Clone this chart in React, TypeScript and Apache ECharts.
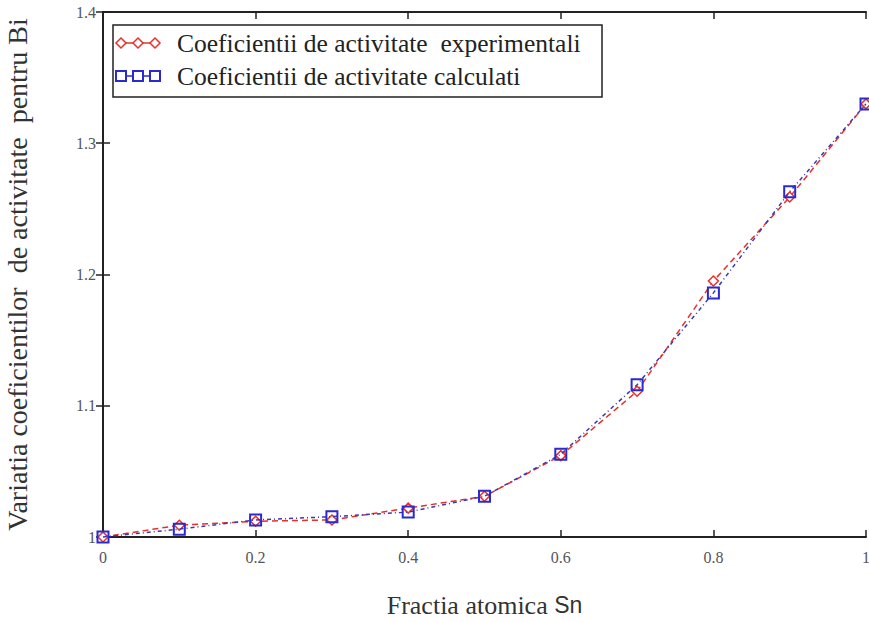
import React, { useEffect, useRef } from "react";
import * as echarts from "echarts";

const xValues = [0, 0.1, 0.2, 0.3, 0.4, 0.5, 0.6, 0.7, 0.8, 0.9, 1.0];
const experimental = [1.0, 1.009, 1.012, 1.013, 1.022, 1.031, 1.062, 1.111, 1.195, 1.259, 1.33];
const calculated = [1.0, 1.006, 1.013, 1.0155, 1.019, 1.031, 1.063, 1.116, 1.186, 1.263, 1.33];
const seriesNames = [
  "Coeficientii de activitate  experimentali",
  "Coeficientii de activitate calculati",
];
const xTitleMain = "Fractia atomica ";
const xTitleSym = "Sn";
const yTitle = "Variatia coeficientilor  de activitate  pentru Bi";

const FONT = "'Liberation Serif', 'DejaVu Serif', serif";
const RED = "#e8302a";
const BLUE = "#2a2ad0";

export default function App() {
  const ref = useRef<HTMLDivElement>(null);
  useEffect(() => {
    if (!ref.current) return;
    const chart = echarts.init(ref.current, null, { renderer: "svg" });
    const axisLine = { show: true, lineStyle: { color: "#222", width: 2 } };
    const tick = { show: true, inside: true, length: 7, lineStyle: { color: "#222", width: 1.5 } };
    const fmt = (v: number) => String(Math.round(v * 10) / 10);

    // legend drawn as graphic
    const lx = 113, ly = 25, lw = 489, lh = 72;
    const rows = [43, 76];
    const mx = [121, 138, 155];
    const legendChildren: any[] = [
      {
        type: "rect",
        shape: { x: lx, y: ly, width: lw, height: lh },
        style: { fill: "#fff", stroke: "#222", lineWidth: 1.5 },
      },
    ];
    legendChildren.push({
      type: "line",
      shape: { x1: mx[0] - 5, y1: rows[0], x2: mx[2] + 5, y2: rows[0] },
      style: { stroke: RED, lineWidth: 1.5 },
    });
    mx.forEach((x) =>
      legendChildren.push({
        type: "polygon",
        shape: { points: [[x, rows[0] - 5], [x + 5, rows[0]], [x, rows[0] + 5], [x - 5, rows[0]]] },
        style: { fill: "#fff", stroke: RED, lineWidth: 1.5 },
      })
    );
    legendChildren.push({
      type: "line",
      shape: { x1: mx[0] - 6, y1: rows[1], x2: mx[2] + 6, y2: rows[1] },
      style: { stroke: BLUE, lineWidth: 1.5 },
    });
    mx.forEach((x) =>
      legendChildren.push({
        type: "rect",
        shape: { x: x - 5, y: rows[1] - 5, width: 10, height: 10 },
        style: { fill: "#fff", stroke: BLUE, lineWidth: 2 },
      })
    );
    seriesNames.forEach((n, i) =>
      legendChildren.push({
        type: "text",
        x: 177,
        y: rows[i],
        style: {
          text: n,
          font: `25.5px ${FONT}`,
          fill: "#222",
          verticalAlign: "middle",
          align: "left",
        },
      })
    );

    chart.setOption({
      animation: false,
      backgroundColor: "#fff",
      grid: {
        left: 103,
        top: 12,
        width: 763,
        height: 525,
        containLabel: false,
        outerBoundsMode: "none",
      },
      graphic: legendChildren.map((c) => ({ ...c, z: 100 })),
      xAxis: [
        {
          type: "value",
          min: 0,
          max: 1,
          interval: 0.2,
          name: `{a|${xTitleMain}}{b|${xTitleSym}}`,
          nameLocation: "middle",
          nameGap: 55,
          nameTextStyle: {
            rich: {
              a: { fontFamily: FONT, fontSize: 26, color: "#333" },
              b: { fontFamily: "'Liberation Sans', Arial, sans-serif", fontSize: 23, color: "#333" },
            },
          },
          axisLine,
          axisTick: tick,
          axisLabel: {
            fontFamily: FONT,
            fontSize: 16,
            color: "#555",
            margin: 12,
            formatter: fmt,
            showMaxLabel: true,
            showMinLabel: true,
            hideOverlap: false,
          },
          splitLine: { show: false },
        },
        {
          type: "value",
          position: "top",
          min: 0,
          max: 1,
          interval: 0.2,
          axisLine,
          axisTick: tick,
          axisLabel: { show: false },
          splitLine: { show: false },
        },
      ],
      yAxis: [
        {
          type: "value",
          min: 1,
          max: 1.4,
          interval: 0.1,
          name: yTitle,
          nameLocation: "middle",
          nameGap: 72,
          nameTextStyle: { fontFamily: FONT, fontSize: 28, color: "#333" },
          axisLine,
          axisTick: tick,
          axisLabel: { fontFamily: FONT, fontSize: 16, color: "#555", margin: 7, formatter: fmt },
          splitLine: { show: false },
        },
        {
          type: "value",
          position: "right",
          min: 1,
          max: 1.4,
          interval: 0.1,
          axisLine,
          axisTick: tick,
          axisLabel: { show: false },
          splitLine: { show: false },
        },
      ],
      series: [
        {
          name: seriesNames[0],
          type: "line",
          data: xValues.map((x, i) => [x, experimental[i]]),
          symbol: "diamond",
          symbolSize: 10,
          showSymbol: true,
          clip: false,
          color: RED,
          itemStyle: { color: "#fff", borderColor: RED, borderWidth: 1.5 },
          lineStyle: { color: RED, width: 1.5, type: [6, 4] },
          z: 2,
        },
        {
          name: seriesNames[1],
          type: "line",
          data: xValues.map((x, i) => [x, calculated[i]]),
          symbol: "rect",
          symbolSize: 11,
          showSymbol: true,
          clip: false,
          color: BLUE,
          itemStyle: { color: "rgba(255,255,255,0)", borderColor: BLUE, borderWidth: 2 },
          lineStyle: { color: "#3a3ab0", width: 1.5, type: [4, 3, 1, 3] },
          z: 3,
        },
      ],
    });
    return () => chart.dispose();
  }, []);
  return (
    <div
      ref={ref}
      style={{ position: "fixed", left: 0, top: 0, width: 869, height: 622, overflow: "hidden" }}
    />
  );
}
